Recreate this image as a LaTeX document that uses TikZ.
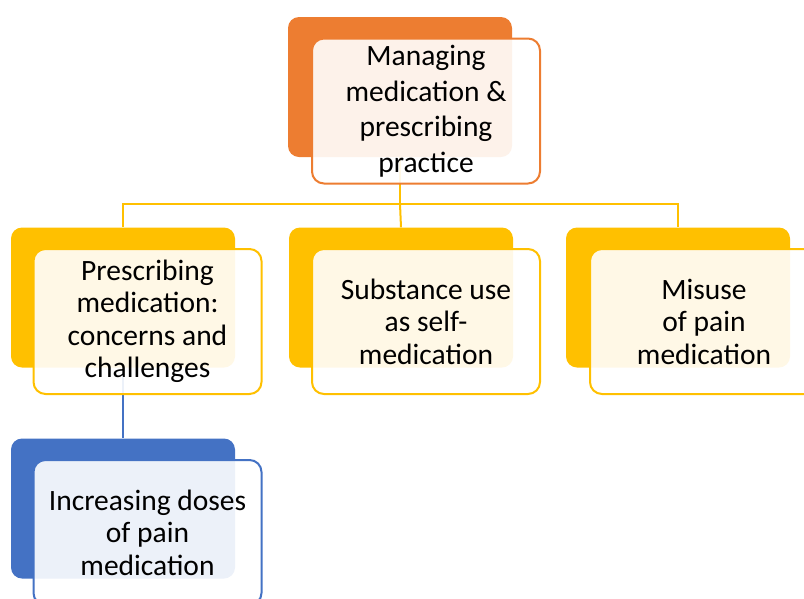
\documentclass[tikz,border=0pt]{standalone}
\usepackage{fontspec}
\setmainfont{Carlito}
\usetikzlibrary{positioning,calc}

\definecolor{accOrange}{HTML}{ED7D31}
\definecolor{accGold}{HTML}{FFC000}
\definecolor{accBlue}{HTML}{4472C4}

\tikzset{
  backbox/.style={rectangle, rounded corners=11pt, fill=#1, draw=none,
    minimum width=224pt, minimum height=140pt, inner sep=0pt},
  frontbox/.style={rectangle, rounded corners=12pt, draw=#1, line width=2pt,
    fill=white, fill opacity=0.9, text opacity=1,
    minimum width=228pt, minimum height=145pt, inner sep=0pt,
    align=center, font=\fontsize{29.5}{32.5}\selectfont},
  headbox/.style={frontbox=#1, font=\fontsize{29.5}{35.5}\selectfont},
  link/.style={draw=#1, line width=2pt},
}

\begin{document}
\begin{tikzpicture}[x=1pt, y=-1pt]
\clip (0,0) rectangle (804,598);
\useasboundingbox (0,0) rectangle (804,598);

% back shapes
\node[backbox=accOrange] (topB) at (400,87) {};
\node[backbox=accGold] (leftB) at (123,297.5) {};
\node[backbox=accGold] (midB) at (401,297.5) {};
\node[backbox=accGold] (rightB) at (678,297.5) {};
\node[backbox=accBlue] (incB) at (123,508.5) {};

% connectors
\coordinate (bus) at (400,204);
\draw[link=accGold] (topB.south) -- (bus);
\draw[link=accGold] (bus) -| (leftB.north);
\draw[link=accGold] (bus) -| (rightB.north);
\draw[link=accGold] (bus) -- (midB.north);
\draw[link=accBlue] (leftB.south) -- (incB.north);

% front boxes
\node[headbox=accOrange] (topF) at ([shift={(26,24)}]topB.center)
  {Managing\\medication \&\\prescribing\\practice};
\node[frontbox=accGold] (leftF) at ([shift={(24.5,24)}]leftB.center)
  {Prescribing\\medication:\\concerns and\\challenges};
\node[frontbox=accGold] (midF) at ([shift={(25,24)}]midB.center)
  {Substance use\\as self-\\medication};
\node[frontbox=accGold] (rightF) at ([shift={(26,24)}]rightB.center)
  {Misuse\\of pain\\medication};
\node[frontbox=accBlue] (incF) at ([shift={(24.5,24)}]incB.center)
  {Increasing doses\\of pain\\medication};
\end{tikzpicture}
\end{document}
